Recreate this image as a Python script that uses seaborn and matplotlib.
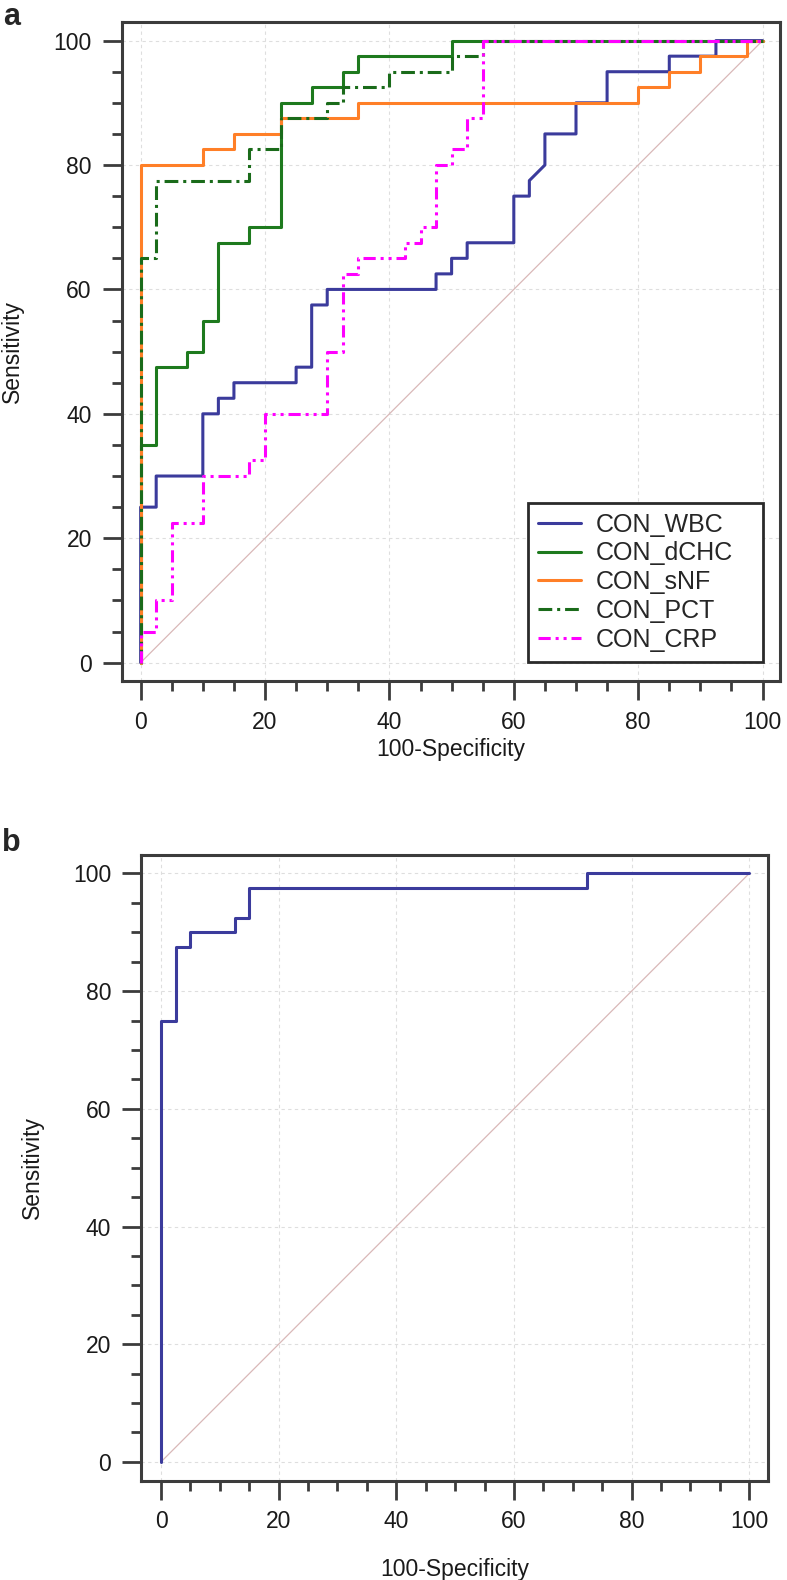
import seaborn as sns
from matplotlib import pyplot as plt
from matplotlib.ticker import MultipleLocator
import pandas as pd

# ROC vertices (100-Specificity, Sensitivity)
wbc_x = [0, 0, 2.5, 2.5, 10, 10, 12.5, 12.5, 15, 15, 25, 25, 27.5, 27.5, 30, 30,
         47.5, 47.5, 50, 50, 52.5, 52.5, 60, 60, 62.5, 62.5, 65, 65, 70, 70, 75, 75,
         85, 85, 92.5, 92.5, 100]
wbc_y = [0, 25, 25, 30, 30, 40, 40, 42.5, 42.5, 45, 45, 47.5, 47.5, 57.5, 57.5, 60,
         60, 62.5, 62.5, 65, 65, 67.5, 67.5, 75, 75, 77.5, 80, 85, 85, 90, 90, 95,
         95, 97.5, 97.5, 100, 100]

dchc_x = [0, 0, 2.5, 2.5, 7.5, 7.5, 10, 10, 12.5, 12.5, 17.5, 17.5, 22.5, 22.5,
          27.5, 27.5, 32.5, 32.5, 35, 35, 50, 50, 100]
dchc_y = [0, 35, 35, 47.5, 47.5, 50, 50, 55, 55, 67.5, 67.5, 70, 70, 90,
          90, 92.5, 92.5, 95, 95, 97.5, 97.5, 100, 100]

snf_x = [0, 0, 10, 10, 15, 15, 22.5, 22.5, 35, 35, 80, 80, 85, 85, 90, 90,
         97.5, 97.5, 100]
snf_y = [0, 80, 80, 82.5, 82.5, 85, 85, 87.5, 87.5, 90, 90, 92.5, 92.5, 95, 95,
         97.5, 97.5, 100, 100]

pct_x = [0, 0, 2.5, 2.5, 17.5, 17.5, 22.5, 22.5, 30, 30, 32.5, 32.5, 40, 40,
         50, 50, 55, 55, 100]
pct_y = [0, 65, 65, 77.5, 77.5, 82.5, 82.5, 87.5, 87.5, 90, 90, 92.5, 92.5, 95,
         95, 97.5, 97.5, 100, 100]

crp_x = [0, 0, 2.5, 2.5, 5, 5, 10, 10, 17.5, 17.5, 20, 20, 30, 30, 32.5, 32.5,
         35, 35, 42.5, 42.5, 45, 45, 47.5, 47.5, 50, 50, 52.5, 52.5, 55, 55, 100]
crp_y = [0, 5, 5, 10, 10, 22.5, 22.5, 30, 30, 32.5, 32.5, 40, 40, 50, 50, 62.5,
         62.5, 65, 65, 67.5, 67.5, 70, 70, 80, 80, 82.5, 82.5, 87.5, 87.5, 100, 100]

b_x = [0, 0, 2.5, 2.5, 5, 5, 12.5, 12.5, 15, 15, 72.5, 72.5, 100]
b_y = [0, 75, 75, 87.5, 87.5, 90, 90, 92.5, 92.5, 97.5, 97.5, 100, 100]

diag = [0, 100]
ticks = [0, 20, 40, 60, 80, 100]

curvas = [
    ('CON_WBC', wbc_x, wbc_y, '#3b3b9c', '-'),
    ('CON_dCHC', dchc_x, dchc_y, '#1e7a1e', '-'),
    ('CON_sNF', snf_x, snf_y, '#ff7f27', '-'),
    ('CON_PCT', pct_x, pct_y, '#1a6b1a', (0, (4.5, 1.6, 1, 1.6))),
    ('CON_CRP', crp_x, crp_y, '#ff00ff', (0, (4, 1.6, 1, 1.6, 1, 1.6))),
]

sns.set_style('ticks')
plt.rcParams['font.family'] = ['Liberation Sans', 'DejaVu Sans']
plt.rcParams['axes.edgecolor'] = '#3c3c3c'

fig = plt.figure(figsize=(7.87, 15.80), dpi=100)
ax_a = fig.add_axes([0.1546, 0.5692, 0.8365, 0.4171])
ax_b = fig.add_axes([0.1794, 0.0629, 0.7968, 0.3960])


def FormatAxis(ax, xlim, ylim, xpad):
    """Estilo comun de los dos paneles."""
    ax.set_xlim(*xlim)
    ax.set_ylim(*ylim)
    ax.set_xticks(ticks)
    ax.set_yticks(ticks)
    ax.xaxis.set_minor_locator(MultipleLocator(5))
    ax.yaxis.set_minor_locator(MultipleLocator(5))
    ax.tick_params(which='major', length=13.5, width=2, color='#3c3c3c',
                   labelsize=16.5, pad=8, labelcolor='#1a1a1a')
    ax.tick_params(which='minor', length=7, width=2, color='#3c3c3c')
    for sp in ax.spines.values():
        sp.set_linewidth(2.2)
        sp.set_color('#3c3c3c')
    ax.grid(True, which='major', color='#dedede', linestyle=(0, (3, 3)),
            linewidth=0.8)
    ax.set_axisbelow(True)
    ax.set_xlabel('100-Specificity', fontsize=16.5, labelpad=xpad,
                  color='#1a1a1a')
    ax.set_ylabel('Sensitivity', fontsize=16.5, labelpad=21, color='#1a1a1a')


# panel a
sns.lineplot(x=diag, y=diag, ax=ax_a, color='#d9b8b8', linewidth=0.9,
             sort=False, estimator=None)
for nombre, xs, ys, color, ls in curvas:
    df = pd.DataFrame({'x': xs, 'y': ys})
    sns.lineplot(data=df, x='x', y='y', ax=ax_a, color=color, linewidth=2.2,
                 linestyle=ls, sort=False, estimator=None, label=nombre)
FormatAxis(ax_a, (-3.05, 102.8), (-2.9, 103.05), 3)
leg = ax_a.legend(loc='lower left', bbox_to_anchor=(0.6177, 0.0288, 0.356, 0.24),
                  mode='expand', borderaxespad=0, fontsize=18, frameon=True,
                  fancybox=False, framealpha=1, edgecolor='#2a2a2a',
                  handlelength=1.7, handletextpad=0.6, labelspacing=0.19,
                  borderpad=0.4)
leg.get_frame().set_linewidth(2)

# panel b
sns.lineplot(x=diag, y=diag, ax=ax_b, color='#d9b8b8', linewidth=0.9,
             sort=False, estimator=None)
sns.lineplot(x=b_x, y=b_y, ax=ax_b, color='#3b3b9c', linewidth=2.2,
             sort=False, estimator=None)
FormatAxis(ax_b, (-3.37, 103.23), (-3.18, 103.14), 18)

fig.text(0.004, 0.999, 'a', fontsize=22, fontweight='bold', va='top', ha='left')
fig.text(0.003, 1 - 828 / 1580, 'b', fontsize=22, fontweight='bold', va='top',
         ha='left')

fig.savefig('out.png', dpi=100)
plt.close()
